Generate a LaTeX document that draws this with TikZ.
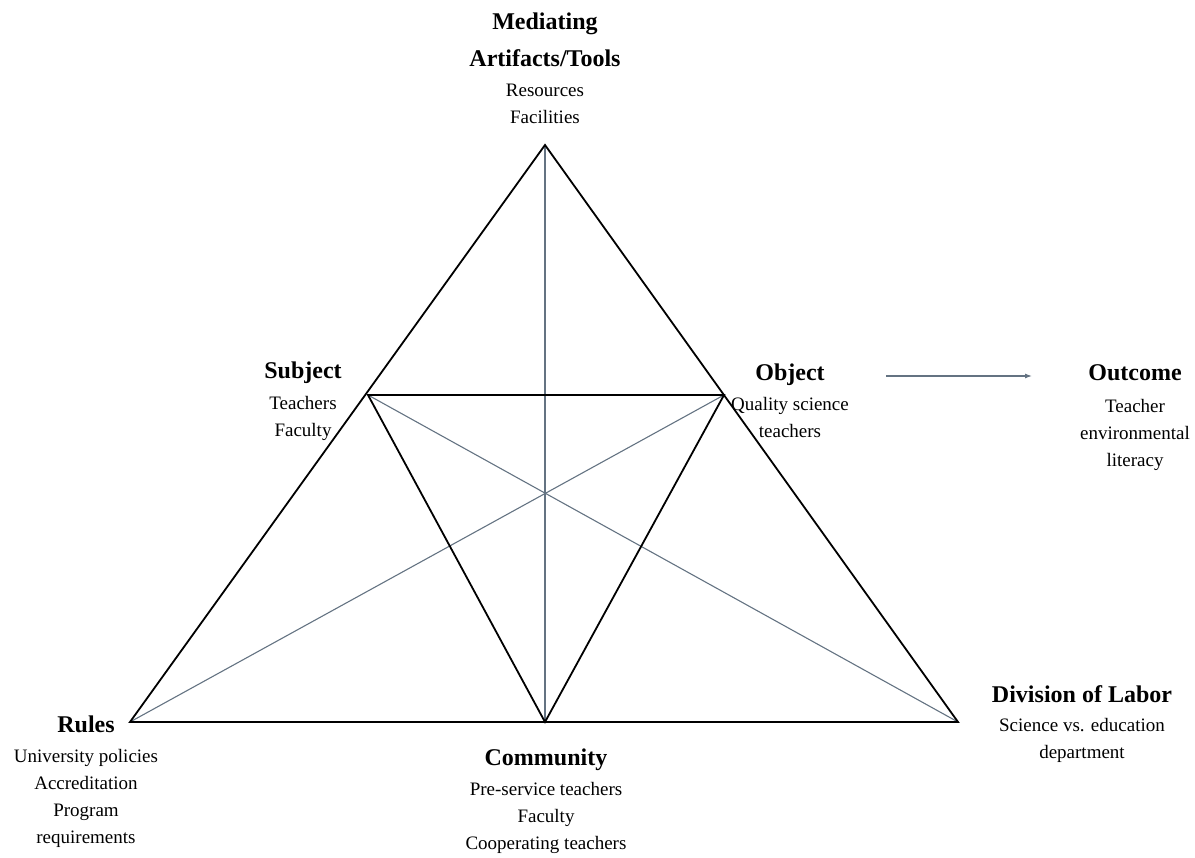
\documentclass[tikz,border=0pt]{standalone}
\usepackage{fontspec}
\setmainfont{Liberation Serif}
\usetikzlibrary{arrows.meta}
\definecolor{spokegray}{RGB}{100,115,130}
\tikzset{
  tri/.style={line width=1.8pt, black, line join=miter},
  spoke/.style={line width=1.1pt, spokegray},
  head/.style={font=\fontsize{24}{37}\selectfont\bfseries, inner sep=0pt, align=center, anchor=base},
  body/.style={font=\fontsize{19}{27}\selectfont, inner sep=0pt, align=center, anchor=base},
}
\begin{document}
\begin{tikzpicture}[x=1pt,y=-1pt]
    \useasboundingbox (0,0) rectangle (1195,858);

    % corners of the triangles
    \coordinate (apex) at (545,145);
    \coordinate (subj) at (368,395);
    \coordinate (obj) at (724,395);
    \coordinate (rules) at (130,722);
    \coordinate (comm) at (545,722);
    \coordinate (divl) at (958,722);

    \draw[spoke] (apex) -- (comm);
    \draw[spoke] (rules) -- (obj);
    \draw[spoke] (divl) -- (subj);
    \draw[tri] (apex) -- (rules) -- (divl) -- cycle;
    \draw[tri] (subj) -- (obj) -- (comm) -- cycle;

    % labels (base = baseline of the last line)
    \node[head] (toolshead) at (545,67) {Mediating\\Artifacts/Tools};
    \node[body] (toolsbody) at (545,124) {Resources\\Facilities};

    \node[head] (subjhead) at (303,379) {Subject};
    \node[body] (subjbody) at (303,437) {Teachers\\Faculty};

    \node[head] (objhead) at (790,381) {Object};
    \node[body] (objbody) at (790,438) {Quality science\\teachers};

    \node[head] (outhead) at (1135,381) {Outcome};
    \node[body] (outbody) at (1135,467) {Teacher\\environmental\\literacy};

    \node[head] (ruleshead) at (86,732) {Rules};
    \node[body] (rulesbody) at (86,843) {University policies\\Accreditation\\Program\\requirements};

    \node[head] (commhead) at (546,765) {Community};
    \node[body] (commbody) at (546,849) {Pre-service teachers\\Faculty\\Cooperating teachers};

    \node[head] (divhead) at (1082,702) {Division of Labor};
    \node[body] (divbody) at (1082,758) {Science vs. education\\department};

    % object to outcome
    \coordinate (arrs) at (886,376);
    \coordinate (arre) at (1032,376);
    \draw[spoke, -{Latex[length=7pt,width=5pt]}] (arrs) -- (arre);

\end{tikzpicture}
\end{document}
